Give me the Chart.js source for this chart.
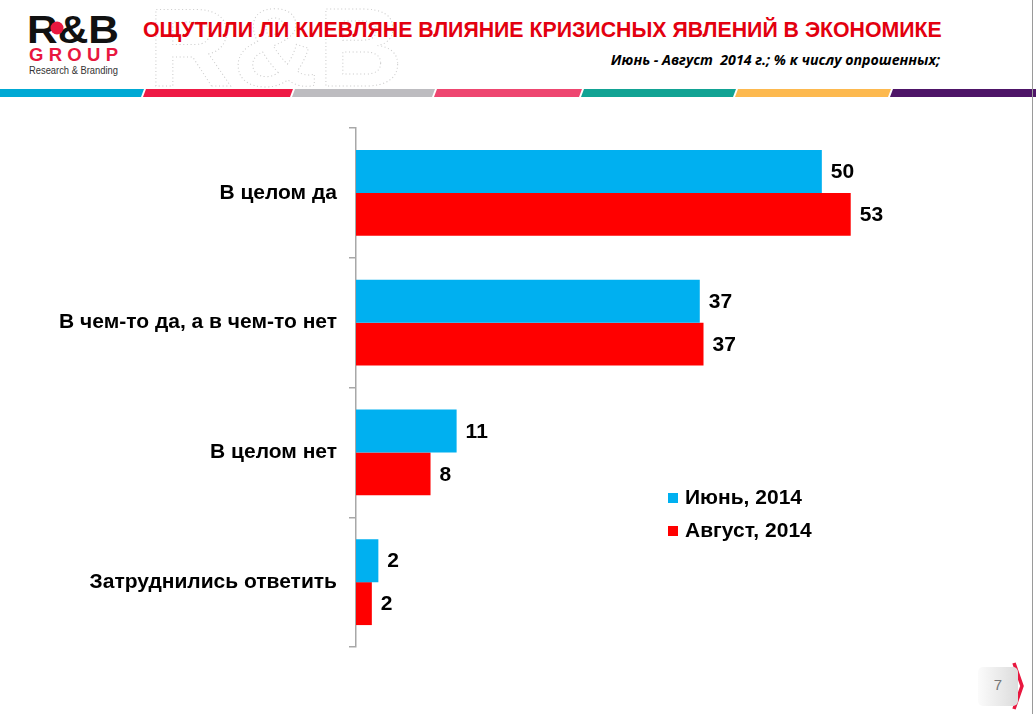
<!DOCTYPE html>
<html>
<head>
<meta charset="utf-8">
<script src="https://cdn.jsdelivr.net/npm/chart.js@4.4.0/dist/chart.umd.min.js"></script>
<style>
  html, body { margin: 0; padding: 0; background: #fff; }
  #page { position: relative; width: 1036px; height: 714px; overflow: hidden; font-family: "Liberation Sans", Arial, sans-serif; }
  #chart { position: absolute; left: 0; top: 0; }
  .title { position: absolute; left: 143px; top: 18px; font-size: 21.3px; font-weight: bold; color: #e3000f; white-space: nowrap; }
  .subtitle { position: absolute; right: 96px; top: 50px; font-family: "Open Sans", sans-serif; font-size: 14.2px; font-weight: bold; font-style: italic; color: #000; white-space: nowrap; }
  .legend { position: absolute; left: 668px; top: 484px; font-size: 21px; font-weight: bold; color: #000; }
  .legend div { height: 33px; line-height: 26px; white-space: nowrap; }
  .legend span { display: inline-block; width: 10px; height: 10px; margin-right: 7px; vertical-align: 1px; }
  .pageno { position: absolute; left: 978px; top: 667px; width: 40px; height: 39px; border-radius: 5px;
    background: linear-gradient(to right, #fbfbfb, #dcdcdc); color: #777; font-size: 15px; text-align: center; line-height: 36px; }
  .edge { position: absolute; left: 1032px; top: 0; width: 1px; height: 714px; background: #9a9a9a; }
</style>
</head>
<body>
<div id="page">
  <svg width="1036" height="714" style="position:absolute;left:0;top:0">
    <!-- faint dotted watermark -->
    <text x="148" y="86" font-family="Liberation Sans, Arial" font-weight="bold" font-size="112" fill="none"
          stroke="#cfcfcf" stroke-width="1" stroke-dasharray="1 2.5" textLength="255" lengthAdjust="spacingAndGlyphs">R&amp;B</text>
    <!-- logo -->
    <text x="27" y="43" font-family="Liberation Sans, Arial" font-weight="bold" font-size="39" fill="#111" textLength="92" lengthAdjust="spacingAndGlyphs">R&amp;B</text>
    <circle cx="57" cy="28" r="6.5" fill="#e8173f"/>
    <text x="29" y="60.5" font-family="Liberation Sans, Arial" font-weight="bold" font-size="18.5" fill="#e8173f" textLength="89" lengthAdjust="spacing">GROUP</text>
    <text x="29" y="73.5" font-family="Liberation Sans, Arial" font-size="10.3" fill="#333" textLength="89" lengthAdjust="spacingAndGlyphs">Research &amp; Branding</text>
    <!-- colour stripe -->
    <polygon points="0,89 144,89 141,97 0,97" fill="#00a9d4"/>
    <polygon points="146,89 293,89 290,97 143,97" fill="#ee1a45"/>
    <polygon points="295,89 435,89 432,97 292,97" fill="#bdbcc0"/>
    <polygon points="437,89 582,89 579,97 434,97" fill="#ee4670"/>
    <polygon points="584,89 736,89 733,97 581,97" fill="#12a394"/>
    <polygon points="738,89 891,89 888,97 735,97" fill="#fdb94f"/>
    <polygon points="893,89 1036,89 1036,97 890,97" fill="#4e1568"/>
    <!-- page chevron -->
    <polyline points="1014,663 1022,686 1014,709" fill="none" stroke="#e8173f" stroke-width="3.5"/>
  </svg>
  <div class="title">ОЩУТИЛИ ЛИ КИЕВЛЯНЕ ВЛИЯНИЕ КРИЗИСНЫХ ЯВЛЕНИЙ В ЭКОНОМИКЕ</div>
  <div class="subtitle">Июнь - Август&nbsp; 2014 г.; % к числу опрошенных;</div>
  <canvas id="chart" width="1036" height="714"></canvas>
  <div class="legend" id="legend"></div>
  <div class="pageno">7</div>
  <div class="edge"></div>
</div>
<script>
var categories = ['В целом да', 'В чем-то да, а в чем-то нет', 'В целом нет', 'Затруднились ответить'];
var seriesNames = ['Июнь, 2014', 'Август, 2014'];
// bar lengths; labels show them rounded
var june = [50, 36.9, 10.8, 2.4];
var august = [53.1, 37.3, 8, 1.7];
var colors = ['#00b0f0', '#ff0000'];

var valueLabels = {
  id: 'valueLabels',
  afterDatasetsDraw: function (chart) {
    var ctx = chart.ctx;
    ctx.save();
    ctx.font = 'bold 21px "Liberation Sans", Arial, sans-serif';
    ctx.fillStyle = '#000';
    ctx.textBaseline = 'middle';
    ctx.textAlign = 'left';
    chart.data.datasets.forEach(function (ds, i) {
      chart.getDatasetMeta(i).data.forEach(function (bar, j) {
        ctx.fillText(Math.round(ds.data[j]), bar.x + 9, bar.y + 1);
      });
    });
    ctx.restore();
  }
};

new Chart(document.getElementById('chart'), {
  type: 'bar',
  data: {
    labels: categories,
    datasets: [
      { label: seriesNames[0], data: june, backgroundColor: colors[0] },
      { label: seriesNames[1], data: august, backgroundColor: colors[1] }
    ]
  },
  options: {
    indexAxis: 'y',
    responsive: false,
    animation: false,
    devicePixelRatio: 1,
    categoryPercentage: 0.662,
    barPercentage: 1,
    layout: { padding: { left: 0, top: 128, right: 121, bottom: 67 } },
    plugins: { legend: { display: false }, tooltip: { enabled: false } },
    scales: {
      x: { display: false, min: 0, max: 60 },
      y: {
        afterFit: function (scale) { scale.width = 356; },
        grid: { drawOnChartArea: false, color: '#a8a8a8', lineWidth: 1.5, tickLength: 7 },
        border: { color: '#a8a8a8', width: 1.5 },
        ticks: { color: '#000', padding: 12, font: { family: '"Liberation Sans", Arial, sans-serif', size: 21, weight: 'bold' } }
      }
    }
  },
  plugins: [valueLabels]
});

var legend = document.getElementById('legend');
seriesNames.forEach(function (name, i) {
  var row = document.createElement('div');
  var sw = document.createElement('span');
  sw.style.background = colors[i];
  row.appendChild(sw);
  row.appendChild(document.createTextNode(name));
  legend.appendChild(row);
});
</script>
</body>
</html>
